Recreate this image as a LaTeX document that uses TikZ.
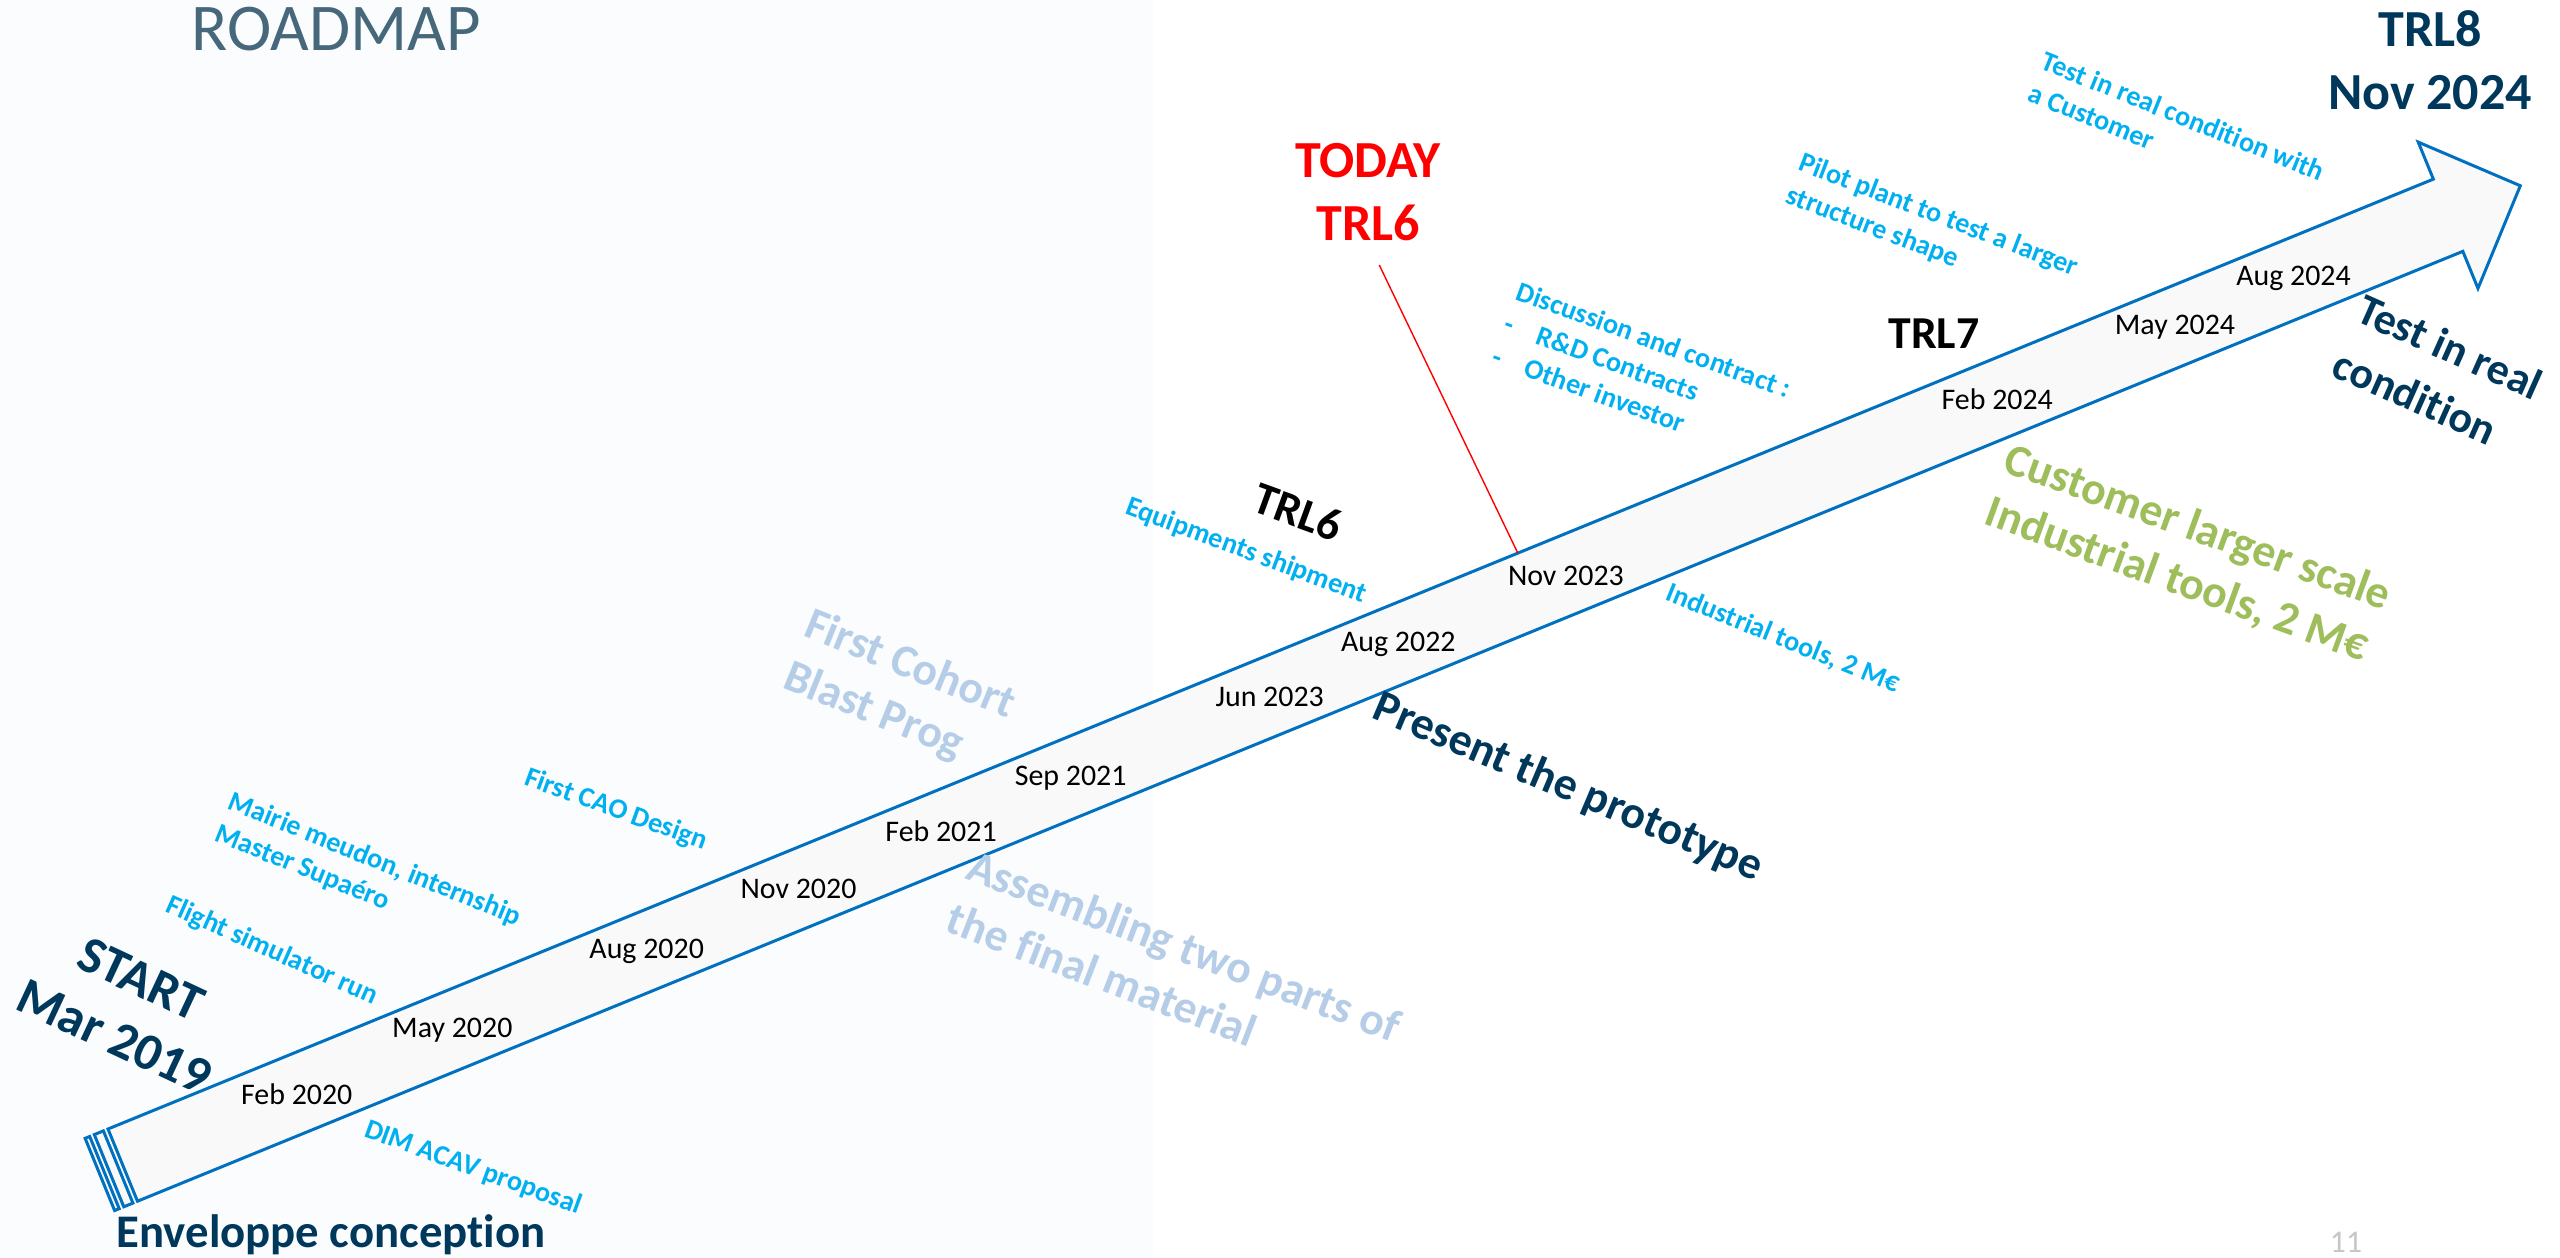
\documentclass[tikz,border=0pt]{standalone}
\usepackage{fontspec}
\setmainfont{Carlito}[Ligatures=NoCommon]
\usetikzlibrary{positioning}

\definecolor{navy}{RGB}{0,56,92}
\definecolor{skyblue}{RGB}{0,176,240}
\definecolor{paleblue}{RGB}{182,205,232}
\definecolor{leafgreen}{RGB}{158,190,92}
\definecolor{arrowblue}{RGB}{0,112,192}
\definecolor{bandgrey}{RGB}{249,249,249}
\definecolor{slate}{RGB}{70,104,122}
\definecolor{paneltint}{RGB}{250,252,254}

\begin{document}
\begin{tikzpicture}[x=0.01cm,y=-0.01cm,
  datelbl/.style={font=\fontsize{8.5}{10.4}\selectfont, inner sep=0pt},
  hint/.style={font=\bfseries\fontsize{8}{9.8}\selectfont, text=skyblue, align=left, inner sep=0pt},
  headline/.style={font=\bfseries\fontsize{14.8}{18}\selectfont, align=center, inner sep=0pt},
  phase/.style={font=\bfseries\fontsize{13}{15.9}\selectfont, align=left, inner sep=0pt},
  trl/.style={font=\bfseries\fontsize{13}{15.9}\selectfont, inner sep=0pt},
  body/.style={draw=arrowblue, line width=0.85pt, fill=bandgrey},
  todayline/.style={draw=red, line width=0.4pt, shorten <=0.26cm}]

  \useasboundingbox (0,0) rectangle (2560,1258);
  \fill[white] (0,0) rectangle (2560,1258);
  \fill[paneltint] (0,0) rectangle (1153,1258);

  % Title

  \node[font=\fontsize{19}{23}\selectfont, text=slate, inner sep=0pt] (title) at (336,29) {ROADMAP};

  % Arrow

  \begin{scope}[shift={(108,1129)}, rotate=22.22]
    \draw[body] (-24.7,0) rectangle (-19.75,78);
    \draw[body] (-14.8,0) rectangle (-4.94,78);
    \draw[body] (0,0) -- (2512,0) -- (2512,-40) -- (2590,39) -- (2512,118)
      -- (2512,78) -- (0,78) -- cycle;
    \coordinate (now) at (1523,0);

    % Dates
    \foreach \u/\d [count=\i] in {188/Feb 2020, 356/May 2020, 566/Aug 2020,
        730/Nov 2020, 884/Feb 2021, 1024/Sep 2021, 1239/Jun 2023,
        1378/Aug 2022, 1559/Nov 2023, 2025/Feb 2024, 2217/May 2024,
        2345/Aug 2024}
      \node[datelbl] (date\i) at (\u,39) {\d};
  \end{scope}

  % Milestones

  \node[headline, text=navy, rotate=-25] (start) at (128,1008) {START\\Mar 2019};
  \node[headline, text=navy] (finish) at (2430,60) {TRL8\\Nov 2024};
  \node[headline, text=red] (today) at (1368,192) {TODAY\\TRL6};
  \node[font=\bfseries\fontsize{13.3}{16}\selectfont, text=navy, anchor=base,
    inner sep=0pt] (envel) at (331,1247) {Enveloppe conception};

  \node[trl, rotate=-20] (trl6) at (1298,512) {TRL6};
  \node[trl] (trl7) at (1934,334) {TRL7};

  \draw[todayline] (today.south) -- (now);

  % Small notes

  \node[hint, rotate=-20] (dim) at (473,1168) {DIM ACAV proposal};
  \node[hint, rotate=-24] (flight) at (272,951) {Flight simulator run};
  \node[hint, rotate=-22] (mairie) at (368,876) {Mairie meudon, internship\\Master Supaéro};
  \node[hint, rotate=-20] (cao) at (616,810) {First CAO Design};
  \node[hint, rotate=-20.5] (equip) at (1246,551) {Equipments shipment};
  \node[hint, rotate=-20] (talks) at (1642,372)
    {Discussion and contract :\\-\hspace{0.9em}R\&D Contracts\\-\hspace{0.9em}Other investor};
  \node[hint, rotate=-22] (tools) at (1783,639) {Industrial tools, 2 M€};
  \node[hint, rotate=-21] (pilot) at (1932,232) {Pilot plant to test a larger\\structure shape};
  \node[hint, rotate=-22] (custtest) at (2177,132) {Test in real condition with\\a Customer};

  % Phases

  \node[phase, text=paleblue, rotate=-22] (cohort) at (899,692) {First Cohort\\Blast Prog};
  \node[phase, text=paleblue, rotate=-21] (assembly) at (1174,972)
    {Assembling two parts of\\the final material};
  \node[phase, text=navy, rotate=-23] (proto) at (1568,788) {Present the prototype};
  \node[phase, text=leafgreen, rotate=-20] (scaleup) at (2188,555)
    {Customer larger scale\\Industrial tools, 2 M€};
  \node[phase, text=navy, rotate=-24, font=\bfseries\fontsize{12.5}{17}\selectfont]
    (realtest) at (2438,374) {Test in real\\condition};

  \node[font=\fontsize{9}{11}\selectfont, text=gray!45, inner sep=0pt] (pagenum) at (2346,1242) {11};

\end{tikzpicture}
\end{document}
